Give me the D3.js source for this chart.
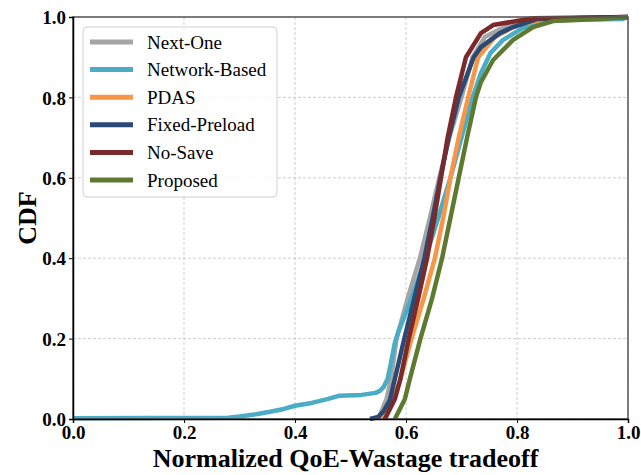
<!DOCTYPE html>
<html>
<head>
<meta charset="utf-8">
<script src="https://cdn.jsdelivr.net/npm/d3@7"></script>
<style>
  body { margin: 0; background: #fff; }
  svg { font-family: "Liberation Serif", "Times New Roman", serif; }
</style>
</head>
<body>
<svg id="chart" width="641" height="475"></svg>
<script>
// series names, colours (legend order = draw order)
var seriesNames = ["Next-One", "Network-Based", "PDAS", "Fixed-Preload", "No-Save", "Proposed"];
var seriesColors = ["#a5a5a5", "#4bacc6", "#f79646", "#2a4a75", "#7a2a2a", "#5e7a30"];

// CDF points: [x, cdf]
var nextOne = [[0.55,0],[0.565,0.05],[0.573,0.1],[0.583,0.2],[0.603,0.3],[0.625,0.4],[0.643,0.5],[0.66,0.6],[0.678,0.7],[0.70,0.8],[0.72,0.9],[0.742,0.95],[0.77,0.97],[0.8,0.985],[0.85,0.995],[1.0,1.0]];
var networkBased = [[0,0.002],[0.28,0.003],[0.30,0.006],[0.33,0.012],[0.355,0.018],[0.38,0.025],[0.40,0.033],[0.43,0.04],[0.46,0.05],[0.48,0.058],[0.52,0.06],[0.545,0.065],[0.553,0.07],[0.56,0.08],[0.567,0.1],[0.573,0.14],[0.58,0.19],[0.587,0.22],[0.61,0.3],[0.635,0.4],[0.658,0.5],[0.68,0.6],[0.70,0.7],[0.72,0.8],[0.735,0.86],[0.752,0.91],[0.775,0.943],[0.811,0.973],[0.854,0.99],[0.9,0.993],[0.99,0.995],[1.0,1.0]];
var pdas = [[0.559,0],[0.578,0.05],[0.59,0.1],[0.61,0.2],[0.632,0.3],[0.652,0.4],[0.667,0.5],[0.68,0.6],[0.695,0.7],[0.712,0.8],[0.73,0.9],[0.76,0.95],[0.80,0.98],[0.85,0.995],[1.0,1.0]];
var fixedPreload = [[0.535,0],[0.55,0.005],[0.56,0.02],[0.571,0.047],[0.58,0.1],[0.597,0.2],[0.615,0.3],[0.633,0.4],[0.648,0.5],[0.662,0.6],[0.677,0.7],[0.695,0.8],[0.722,0.9],[0.735,0.925],[0.769,0.96],[0.793,0.975],[0.836,0.995],[1.0,1.0]];
var noSave = [[0.562,0],[0.58,0.05],[0.59,0.1],[0.605,0.2],[0.622,0.3],[0.638,0.4],[0.651,0.5],[0.663,0.6],[0.675,0.7],[0.69,0.8],[0.708,0.9],[0.735,0.96],[0.757,0.98],[0.829,0.997],[1.0,1.0]];
var proposed = [[0.58,0],[0.598,0.05],[0.607,0.1],[0.626,0.2],[0.647,0.3],[0.665,0.4],[0.68,0.5],[0.695,0.6],[0.71,0.7],[0.726,0.8],[0.735,0.838],[0.757,0.893],[0.793,0.943],[0.829,0.975],[0.865,0.99],[0.95,0.995],[1.0,1.0]];
var seriesValues = [nextOne, networkBased, pdas, fixedPreload, noSave, proposed];

var tickValues = [0, 0.2, 0.4, 0.6, 0.8, 1.0];

var svg = d3.select("#chart"),
    margin = {top: 17, right: 13, bottom: 56, left: 73},
    width = +svg.attr("width") - margin.left - margin.right,
    height = +svg.attr("height") - margin.top - margin.bottom;

var g = svg.append("g").attr("transform", "translate(" + margin.left + "," + margin.top + ")");

var x = d3.scaleLinear().domain([0, 1]).range([0, width]);
var y = d3.scaleLinear().domain([0, 1]).range([height, 0]);

// grid
g.append("g").selectAll("line.vx")
  .data(tickValues).enter().append("line")
  .attr("x1", function(d) { return x(d); }).attr("x2", function(d) { return x(d); })
  .attr("y1", 0).attr("y2", height)
  .attr("stroke", "#c0c0c0").attr("stroke-width", 0.8).attr("stroke-dasharray", "3,2");
g.append("g").selectAll("line.hy")
  .data(tickValues).enter().append("line")
  .attr("y1", function(d) { return y(d); }).attr("y2", function(d) { return y(d); })
  .attr("x1", 0).attr("x2", width)
  .attr("stroke", "#c0c0c0").attr("stroke-width", 0.8).attr("stroke-dasharray", "3,2");

// lines
var line = d3.line()
  .x(function(d) { return x(d[0]); })
  .y(function(d) { return y(d[1]); });

g.append("g").selectAll("path")
  .data(seriesValues).enter().append("path")
  .attr("d", line)
  .attr("fill", "none")
  .attr("stroke", function(d, i) { return seriesColors[i]; })
  .attr("stroke-width", 4.5)
  .attr("stroke-linejoin", "round");

// frame
g.append("rect")
  .attr("width", width).attr("height", height)
  .attr("fill", "none").attr("stroke", "#555").attr("stroke-width", 1.5);

// axes
var fmt = d3.format(".1f");
var xAxis = g.append("g")
  .attr("transform", "translate(0," + height + ")")
  .call(d3.axisBottom(x).tickValues(tickValues).tickFormat(fmt).tickSize(4).tickPadding(3));
var yAxis = g.append("g")
  .call(d3.axisLeft(y).tickValues(tickValues).tickFormat(fmt).tickSize(4).tickPadding(3));
[xAxis, yAxis].forEach(function(a) {
  a.select(".domain").attr("stroke", "#000").attr("stroke-width", 1.5);
  a.selectAll(".tick line").attr("stroke", "#000").attr("stroke-width", 1);
  a.selectAll(".tick text")
    .attr("fill", "#000")
    .style("font-family", "Liberation Serif")
    .style("font-size", "19px")
    .style("font-weight", "bold");
});
yAxis.selectAll(".tick text").attr("dy", "0.35em");

// axis titles
svg.append("text")
  .attr("x", margin.left + width / 2 - 5)
  .attr("y", 467)
  .attr("text-anchor", "middle")
  .style("font-size", "26px")
  .style("font-weight", "bold")
  .text("Normalized QoE-Wastage tradeoff");

svg.append("text")
  .attr("transform", "translate(36," + (margin.top + height / 2) + ") rotate(-90)")
  .attr("text-anchor", "middle")
  .style("font-size", "26px")
  .style("font-weight", "bold")
  .text("CDF");

// legend
var legend = svg.append("g").attr("transform", "translate(83,27)");
legend.append("rect")
  .attr("width", 194).attr("height", 170)
  .attr("rx", 4).attr("ry", 4)
  .attr("fill", "#fff").attr("fill-opacity", 0.85)
  .attr("stroke", "#d0d0d0").attr("stroke-width", 1);

var items = legend.selectAll("g.item")
  .data(seriesNames).enter().append("g")
  .attr("transform", function(d, i) { return "translate(0," + (15 + i * 27.6) + ")"; });
items.append("line")
  .attr("x1", 7).attr("x2", 50)
  .attr("stroke", function(d, i) { return seriesColors[i]; })
  .attr("stroke-width", 5);
items.append("text")
  .attr("x", 64).attr("dy", "0.35em")
  .style("font-size", "19px")
  .text(function(d) { return d; });
</script>
</body>
</html>
